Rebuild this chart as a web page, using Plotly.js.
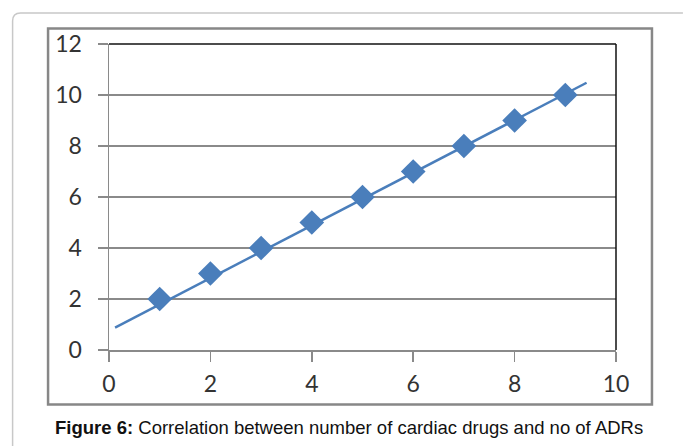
<!DOCTYPE html>
<html><head><meta charset="utf-8">
<script src="https://cdn.plot.ly/plotly-3.0.1.min.js"></script>
<style>html,body{margin:0;padding:0;background:#fff;}#chart{width:683px;height:446px;}</style>
</head><body><div id="chart"></div>
<script>
// Data
const drugs = [1, 2, 3, 4, 5, 6, 7, 8, 9];
const adrs = [2, 3, 4, 5, 6, 7, 8, 9, 10];
const trendX = [0.12, 9.42];
const trendY = [0.88, 10.48];
const xTicks = [0, 2, 4, 6, 8, 10];
const yTicks = [0, 2, 4, 6, 8, 10, 12];
const caption = "<b>Figure 6:</b> Correlation between number of cardiac drugs and no of ADRs";

const W = 683, H = 446;
const L = 108.5, R = 616, T = 44, B = 350;
const px = v => (v - L) / (R - L);
const py = v => (B - v) / (B - T);

const blue = '#4a7ebb';
const tickFont = {family: 'Lato, "Open Sans", sans-serif', size: 23, color: '#333333'};

const traces = [
  {x: trendX, y: trendY, mode: 'lines', line: {color: blue, width: 2.5}, hoverinfo: 'skip', showlegend: false},
  {x: drugs, y: adrs, mode: 'markers', marker: {symbol: 'diamond', size: 19, color: blue}, showlegend: false}
];

const outerPath = `M ${px(12)} ${py(446)} L ${px(12)} ${py(21)} Q ${px(12)} ${py(13)} ${px(20)} ${py(13)} L ${px(683)} ${py(13)}`;

const layout = {
  width: W, height: H,
  margin: {l: L, r: W - R, t: T, b: H - B, pad: 0},
  paper_bgcolor: '#ffffff', plot_bgcolor: '#ffffff',
  showlegend: false,
  xaxis: {range: [0, 10], tickvals: xTicks, ticktext: xTicks.map(String), showgrid: false, zeroline: false,
    showline: true, linecolor: '#8a8a8a', linewidth: 1.5, ticks: 'outside', ticklen: 10, tickwidth: 1.5, tickcolor: '#8a8a8a',
    tickfont: tickFont, ticklabelstandoff: 3},
  yaxis: {range: [0, 12], tickvals: yTicks, ticktext: yTicks.map(String), showgrid: true, gridcolor: '#8a8a8a', gridwidth: 1.5, zeroline: false,
    showline: true, linecolor: '#8a8a8a', linewidth: 1.5, ticks: 'outside', ticklen: 10, tickwidth: 1.5, tickcolor: '#8a8a8a',
    tickfont: tickFont, ticklabelstandoff: 11},
  shapes: [
    {type: 'path', xref: 'paper', yref: 'paper', path: outerPath, line: {color: '#c8c8c8', width: 1.5}},
    {type: 'rect', xref: 'paper', yref: 'paper', x0: px(47.5), x1: px(652), y0: py(404.5), y1: py(28.5), line: {color: '#878787', width: 2.5}},
    {type: 'line', xref: 'paper', yref: 'paper', x0: 0, x1: 1, y0: 1, y1: 1, line: {color: '#111111', width: 1.5}},
    {type: 'line', xref: 'paper', yref: 'paper', x0: 1, x1: 1, y0: 0, y1: 1, line: {color: '#111111', width: 1.5}}
  ],
  annotations: [
    {xref: 'paper', yref: 'paper', x: px(349), y: py(427), xanchor: 'center', yanchor: 'middle', showarrow: false,
     text: caption, font: {family: '"Liberation Sans", Arial, sans-serif', size: 18.5, color: '#111111'}}
  ]
};

Plotly.newPlot('chart', traces, layout, {displayModeBar: false, staticPlot: true});
</script></body></html>
